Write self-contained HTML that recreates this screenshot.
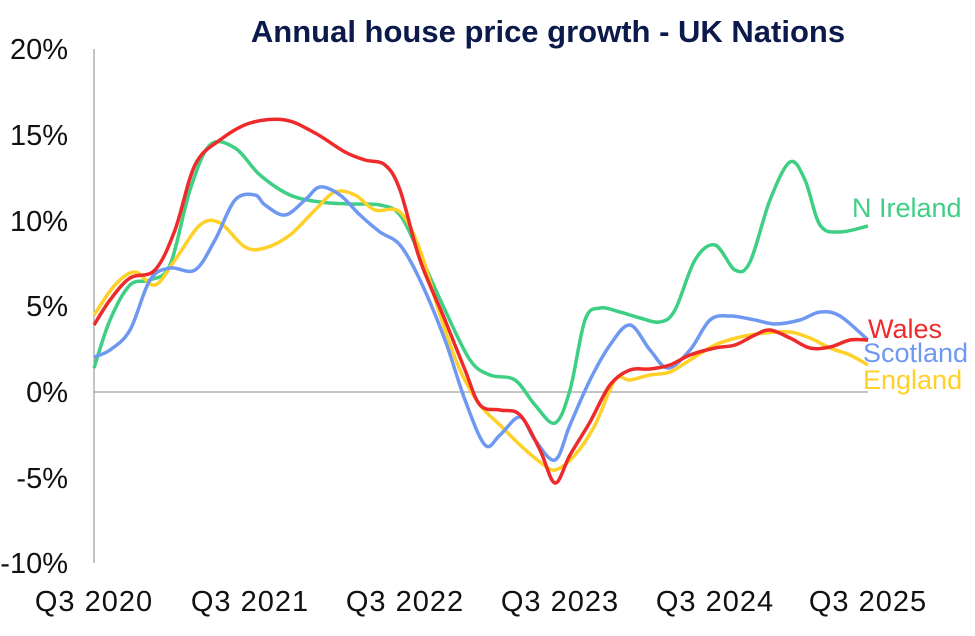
<!DOCTYPE html>
<html><head><meta charset="utf-8"><style>
body{margin:0;background:#fff;}
svg{display:block;font-family:"Liberation Sans",sans-serif;}
</style></head><body>
<svg id="s" width="975" height="636" viewBox="0 0 975 636">
<text x="548" y="42" text-anchor="middle" font-size="31" font-weight="bold" fill="#0b1a4a">Annual house price growth - UK Nations</text>
<line x1="94" y1="49" x2="94" y2="563" stroke="#888" stroke-width="1"/>
<line x1="94" y1="392" x2="868" y2="392" stroke="#888" stroke-width="1"/>
<g font-size="29" fill="#111" text-anchor="end">
<text x="68" y="59">20%</text><text x="68" y="145">15%</text><text x="68" y="231">10%</text>
<text x="68" y="316">5%</text><text x="68" y="402">0%</text><text x="68" y="488">-5%</text><text x="68" y="573">-10%</text>
</g>
<g font-size="29" fill="#111" text-anchor="middle" letter-spacing="1">
<text x="94" y="611">Q3 2020</text><text x="250" y="611">Q3 2021</text><text x="405" y="611">Q3 2022</text>
<text x="560" y="611">Q3 2023</text><text x="715" y="611">Q3 2024</text><text x="868" y="611">Q3 2025</text>
</g>
<g font-size="27">
<text x="852" y="217" fill="#3ecf85">N Ireland</text>
<text x="868" y="338" fill="#ee2a2a">Wales</text>
<text x="863" y="362" fill="#6f98f2">Scotland</text>
<text x="863" y="389" fill="#ffd027">England</text>
</g>
</svg>
<script>
var S={
"#3ecf85":[[94,368],[110,320],[130,285],[150,280],[170,265],[190,190],[210,145],[235,148],[260,175],[290,195],[320,202],[350,204],[380,205],[400,215],[420,255],[445,310],[470,360],[490,375],[515,380],[535,405],[555,423],[570,390],[585,320],[600,308],[620,312],[640,318],[660,322],[675,310],[695,260],[715,245],[735,270],[750,262],[770,200],[790,162],[805,180],[820,225],[840,232],[868,226]],
"#ffd027":[[94,315],[115,285],[135,272],[155,285],[175,260],[200,225],[220,223],[245,247],[265,248],[290,235],[315,210],[335,192],[355,195],[375,210],[400,212],[420,250],[440,315],[460,370],[480,405],[500,425],[520,445],[540,462],[555,470],[575,455],[595,425],[615,380],[630,380],[650,375],[670,372],[690,360],[715,345],[740,337],[765,333],[790,332],[810,338],[830,348],[850,355],[868,365]],
"#6f98f2":[[94,357],[110,350],[130,330],[150,280],[170,268],[195,270],[215,240],[235,200],[255,195],[265,205],[285,215],[305,200],[320,187],[340,195],[360,215],[380,232],[400,245],[420,280],[445,340],[465,400],[485,445],[500,435],[520,417],[535,440],[555,460],[570,425],[590,380],[610,345],[630,325],[650,350],[668,368],[690,350],[710,320],[730,316],[755,320],[775,324],[800,320],[820,312],[840,316],[868,340]],
"#ee2a2a":[[94,325],[110,300],[130,278],[155,270],[175,230],[195,165],[220,140],[250,123],[285,120],[315,133],[345,152],[365,160],[385,165],[400,190],[420,260],[445,320],[465,370],[480,405],[500,410],[520,415],[540,450],[555,483],[570,455],[590,422],[610,385],[630,370],[650,369],[670,365],[690,355],[715,348],[735,345],[755,335],[770,330],[790,338],[810,348],[830,347],[850,340],[868,340]]
};
var svg=document.getElementById('s');
for(var c in S){var p=S[c],d="M"+p[0][0]+","+p[0][1];
for(var i=0;i<p.length-1;i++){var a=p[i-1]||p[i],b=p[i],e=p[i+1],f=p[i+2]||e;
d+=" C"+(b[0]+(e[0]-a[0])/6)+","+(b[1]+(e[1]-a[1])/6)+" "+(e[0]-(f[0]-b[0])/6)+","+(e[1]-(f[1]-b[1])/6)+" "+e[0]+","+e[1];}
var el=document.createElementNS("http://www.w3.org/2000/svg","path");
el.setAttribute("d",d);el.setAttribute("fill","none");el.setAttribute("stroke",c);el.setAttribute("stroke-width","3.5");el.setAttribute("stroke-linejoin","round");
svg.appendChild(el);}
</script>
</body></html>
